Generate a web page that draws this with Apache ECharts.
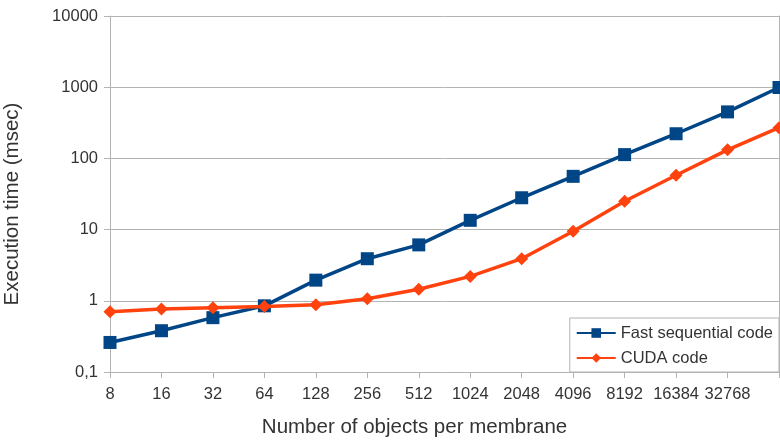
<!DOCTYPE html>
<html>
<head>
<meta charset="utf-8">
<script src="https://cdn.jsdelivr.net/npm/echarts@6/dist/echarts.min.js"></script>
<style>
  html, body { margin: 0; padding: 0; background: #fff; }
  #chart { width: 780px; height: 443px; }
</style>
</head>
<body>
<div id="chart"></div>
<script>
// Objects per membrane (x categories)
const sizes = ['8', '16', '32', '64', '128', '256', '512', '1024', '2048', '4096', '8192', '16384', '32768', '65536'];
// Execution time in msec
const fastSequential = [0.26, 0.38, 0.58, 0.85, 1.95, 3.9, 6.1, 13.5, 28, 56, 113, 222, 450, 990];
const cudaCode = [0.70, 0.77, 0.80, 0.83, 0.88, 1.07, 1.45, 2.2, 3.9, 9.5, 25, 58, 132, 270];
// Y tick labels (decimal comma)
const yTickLabels = { 0.1: '0,1', 1: '1', 10: '10', 100: '100', 1000: '1000', 10000: '10000' };

const FONT = 'Liberation Sans, Arial, sans-serif';
const GRID_COLOR = '#b3b3b3';
const TEXT_COLOR = '#333';

const chart = echarts.init(document.getElementById('chart'), null, { renderer: 'canvas' });
chart.setOption({
  animation: false,
  backgroundColor: '#fff',
  textStyle: { fontFamily: FONT },
  grid: { left: 110, right: 1, top: 16, bottom: 71, containLabel: false, outerBoundsMode: 'none' },
  legend: {
    orient: 'vertical',
    right: 1,
    bottom: 71,
    backgroundColor: '#fff',
    borderColor: GRID_COLOR,
    borderWidth: 1,
    padding: [6, 6, 5, 6],
    itemGap: 7,
    itemWidth: 39,
    itemHeight: 12,
    textStyle: { fontFamily: FONT, fontSize: 16.5, lineHeight: 18, color: TEXT_COLOR },
    data: ['Fast sequential code', 'CUDA code']
  },
  xAxis: {
    type: 'category',
    data: sizes,
    boundaryGap: false,
    name: 'Number of objects per membrane',
    nameLocation: 'middle',
    nameGap: 45,
    nameTextStyle: { fontFamily: FONT, fontSize: 20.5, color: TEXT_COLOR, padding: [0, 60, 0, 0] },
    axisLine: { lineStyle: { color: GRID_COLOR, width: 1 } },
    axisTick: { alignWithLabel: true, length: 6, lineStyle: { color: GRID_COLOR } },
    axisLabel: {
      interval: 0,
      margin: 14,
      fontSize: 16.5,
      color: TEXT_COLOR,
      formatter: (v, i) => (i === sizes.length - 1 ? '' : v)
    },
    splitLine: { show: false }
  },
  yAxis: [{
    type: 'log',
    logBase: 10,
    min: 0.1,
    max: 10000,
    name: 'Execution time (msec)',
    nameLocation: 'middle',
    nameGap: 87,
    nameRotate: 90,
    nameTextStyle: { fontFamily: FONT, fontSize: 20.5, color: TEXT_COLOR, padding: [0, 20, 0, 0] },
    axisLine: { show: true, lineStyle: { color: GRID_COLOR, width: 1 } },
    axisTick: { show: true, length: 6, lineStyle: { color: GRID_COLOR } },
    axisLabel: {
      fontSize: 16.5,
      color: TEXT_COLOR,
      margin: 12,
      formatter: v => {
        const key = Math.round(v * 10) / 10;
        return yTickLabels[key] !== undefined ? yTickLabels[key] : '';
      }
    },
    splitLine: { show: true, lineStyle: { color: GRID_COLOR, width: 1 } }
  }, {
    // right frame edge of the plot area
    type: 'log',
    logBase: 10,
    min: 0.1,
    max: 10000,
    position: 'right',
    axisLine: { show: true, lineStyle: { color: GRID_COLOR, width: 1 } },
    axisTick: { show: false },
    axisLabel: { show: false },
    splitLine: { show: false }
  }],
  series: [{
    name: 'Fast sequential code',
    type: 'line',
    data: fastSequential,
    symbol: 'rect',
    symbolSize: 13,
    itemStyle: { color: '#004586' },
    lineStyle: { color: '#004586', width: 3.5 },
    z: 3
  }, {
    name: 'CUDA code',
    type: 'line',
    data: cudaCode,
    symbol: 'diamond',
    symbolSize: 13,
    itemStyle: { color: '#ff420e' },
    lineStyle: { color: '#ff420e', width: 3.5 },
    z: 4
  }]
});
</script>
</body>
</html>
